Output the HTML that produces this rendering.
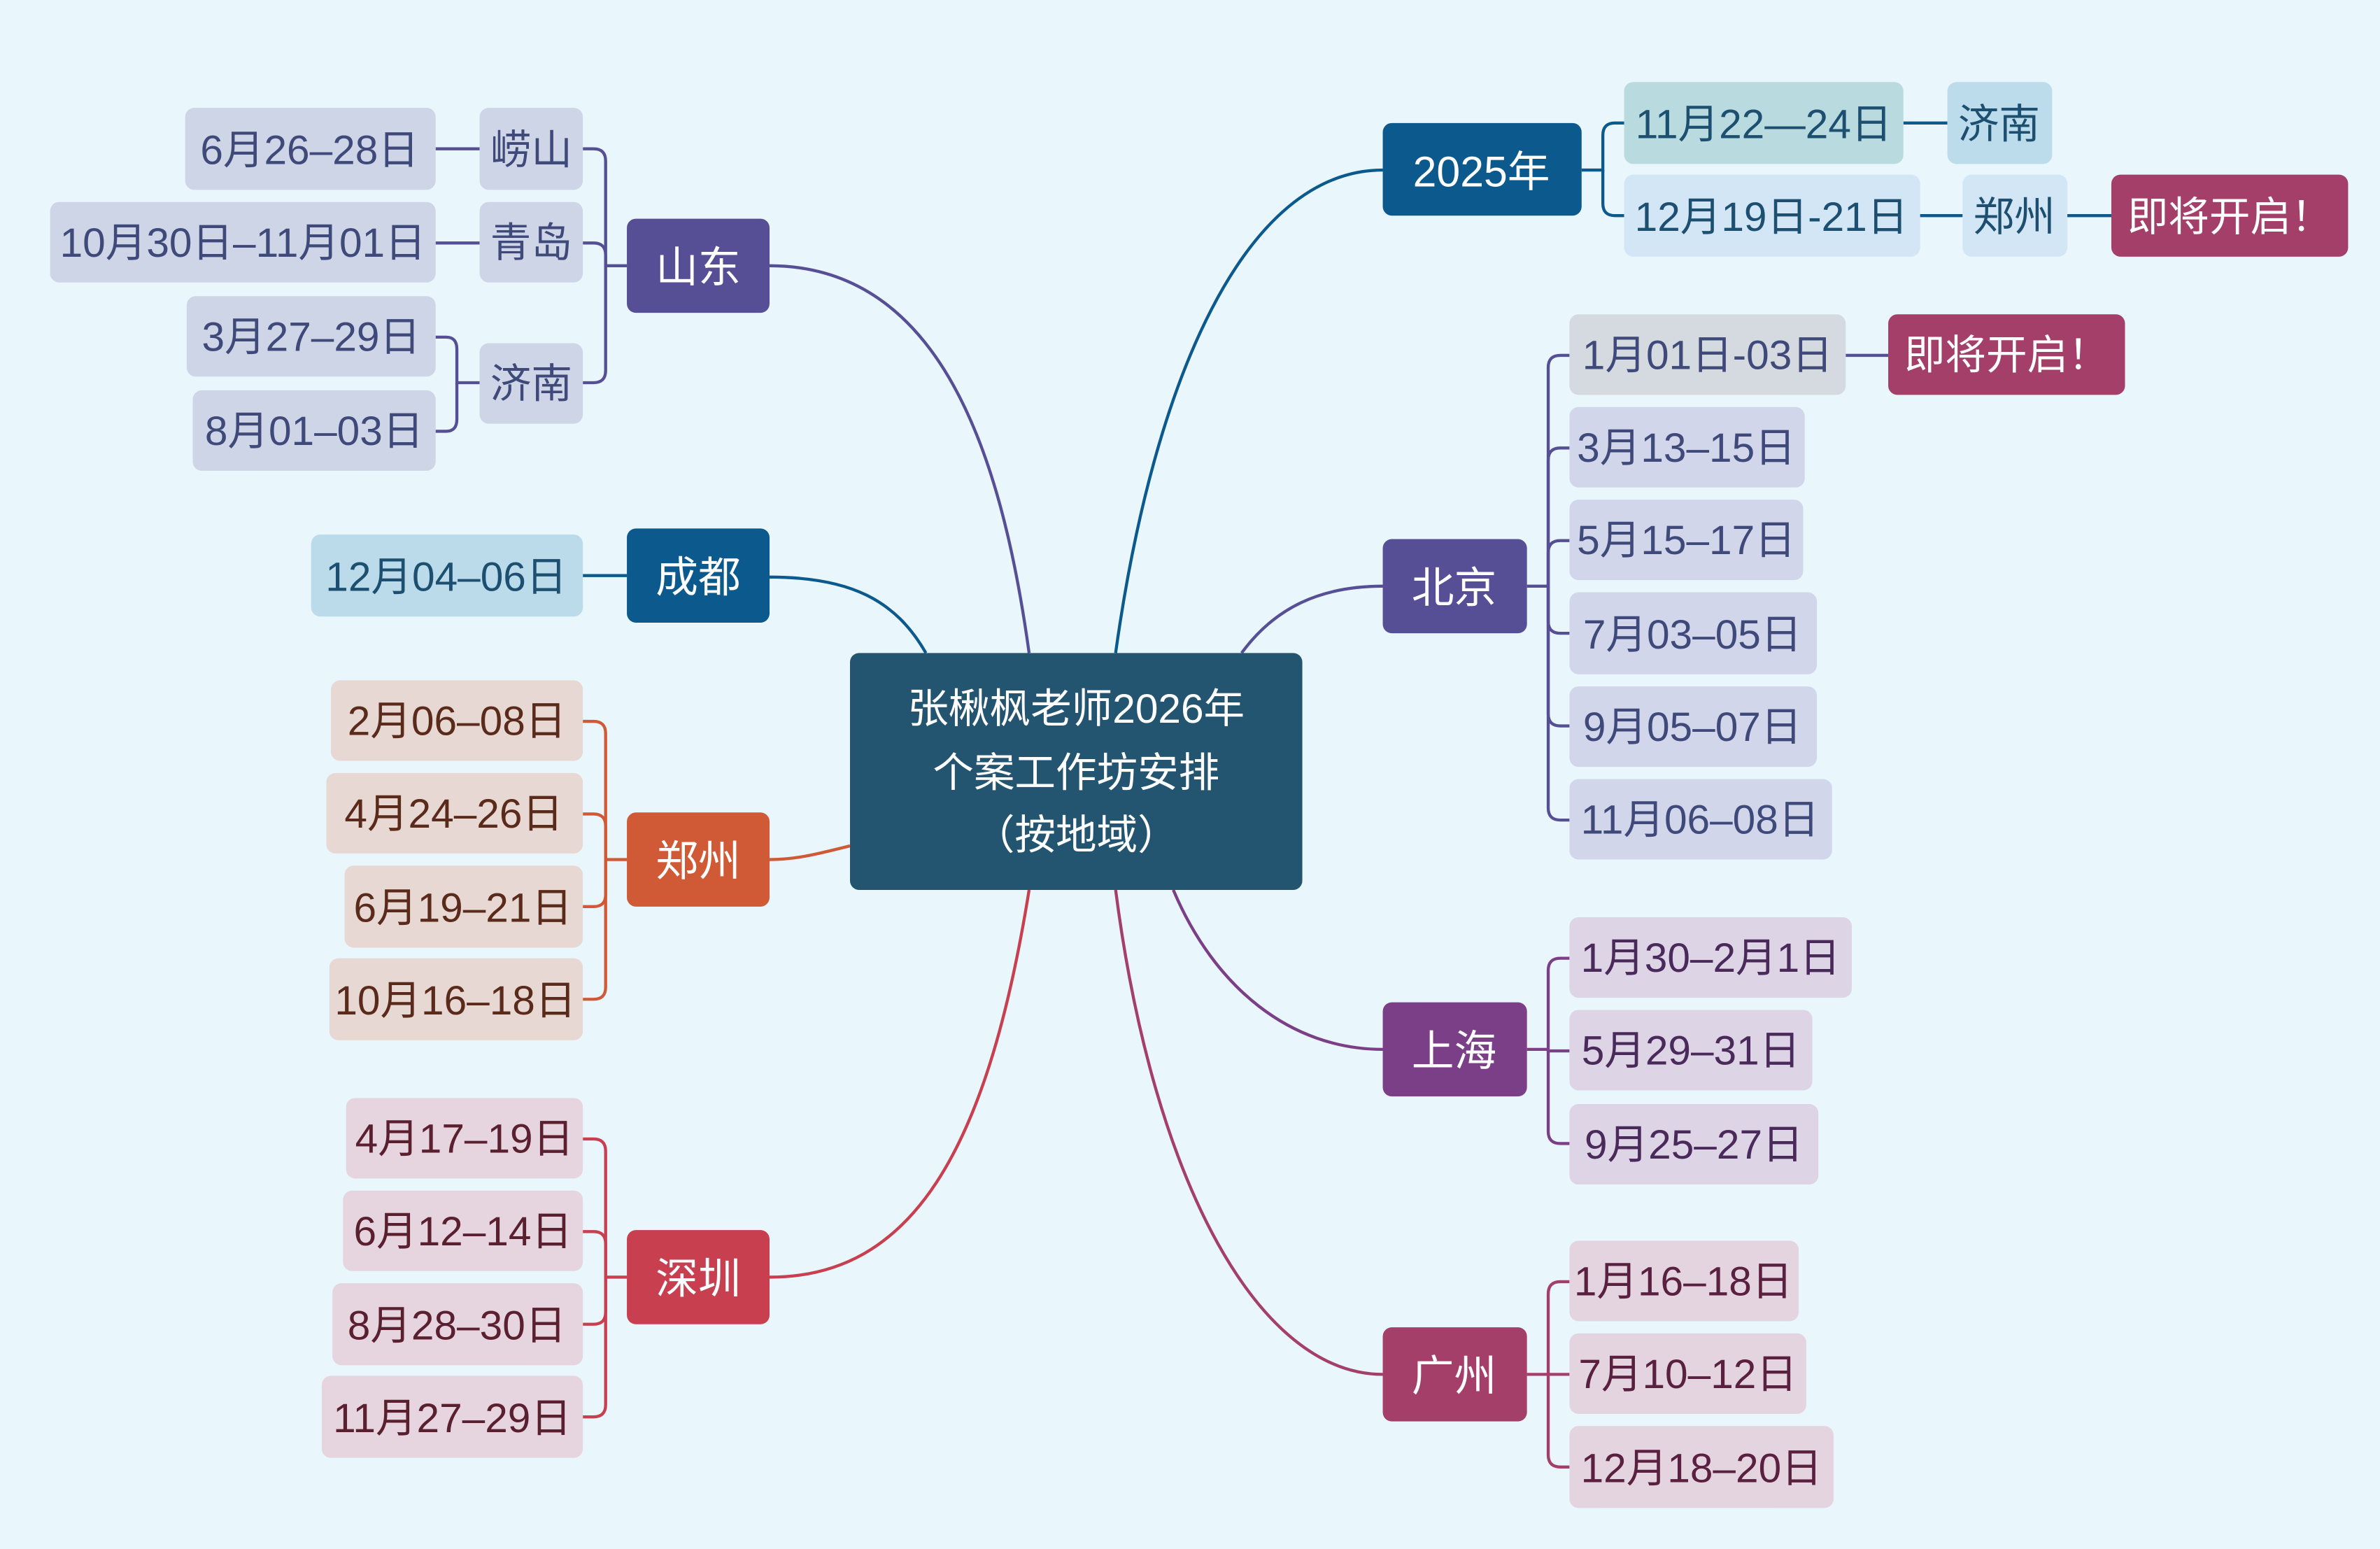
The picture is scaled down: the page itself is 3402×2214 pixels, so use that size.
<!DOCTYPE html>
<html><head><meta charset="utf-8"><style>
html,body{margin:0;padding:0;background:#e9f6fc;}
svg{display:block;}
text{font-family:"Liberation Sans","Noto Sans CJK SC",sans-serif;dominant-baseline:central;text-anchor:middle;}
</style></head><body>
<svg width="3402" height="2214" viewBox="0 0 1568 1020" preserveAspectRatio="none" xmlns="http://www.w3.org/2000/svg">
<rect width="1568" height="1020" fill="#e9f6fc"/>
<g fill="none" stroke-width="2">
<path d="M678,430 C660,300 620,175 507,175" stroke="#574f95"/>
<path d="M610,430 C590,395 560,380 507,380" stroke="#0c5a8d"/>
<path d="M560,557 C540,562 525,566 507,566" stroke="#d05a35"/>
<path d="M678,586 C650,760 600,841 507,841" stroke="#c83f50"/>
<path d="M735,430 C760,250 820,112 911,112" stroke="#0c5a8d"/>
<path d="M818,430 C840,400 870,386 911,386" stroke="#574f95"/>
<path d="M773,586 C800,650 850,691 911,691" stroke="#7a3f86"/>
<path d="M735,586 C760,780 830,905 911,905" stroke="#a43f6a"/>
<g stroke="#574f95">
<path d="M413,175 H399 V106 Q399,98 391,98 H384"/>
<path d="M399,175 V168 Q399,160 391,160 H384"/>
<path d="M399,175 V244 Q399,252 391,252 H384"/>
<path d="M316,252 H301 V230 Q301,222 294,222 H287"/>
<path d="M301,252 V276 Q301,284 294,284 H287"/>
<path d="M287,98 H316 M287,160 H316"/>
<path d="M1006,386 H1020 V242 Q1020,234 1028,234 H1034"/>
<path d="M1020,386 V303 Q1020,295 1028,295 H1034"/>
<path d="M1020,386 V364 Q1020,356 1028,356 H1034"/>
<path d="M1020,386 V409 Q1020,417 1028,417 H1034"/>
<path d="M1020,386 V470 Q1020,478 1028,478 H1034"/>
<path d="M1020,386 V532 Q1020,540 1028,540 H1034"/>
<path d="M1216,234 H1244"/>
</g>
<path d="M413,379 H384" stroke="#0c5a8d"/>
<g stroke="#d05a35">
<path d="M413,566 H399 V483 Q399,475 391,475 H384"/>
<path d="M399,566 V544 Q399,536 391,536 H384"/>
<path d="M399,566 V589 Q399,597 391,597 H384"/>
<path d="M399,566 V650 Q399,658 391,658 H384"/>
</g>
<g stroke="#c83f50">
<path d="M413,841 H399 V758 Q399,750 391,750 H384"/>
<path d="M399,841 V819 Q399,811 391,811 H384"/>
<path d="M399,841 V864 Q399,872 391,872 H384"/>
<path d="M399,841 V925 Q399,933 391,933 H384"/>
</g>
<g stroke="#0c5a8d">
<path d="M1042,112 H1056 V89 Q1056,81 1064,81 H1070"/>
<path d="M1056,112 V134 Q1056,142 1064,142 H1070"/>
<path d="M1254,81 H1283 M1265,142 H1293 M1362,142 H1391"/>
</g>
<g stroke="#7a3f86">
<path d="M1006,691 H1020 V639 Q1020,631 1028,631 H1034"/>
<path d="M1020,691 V692 H1034"/>
<path d="M1020,691 V745 Q1020,753 1028,753 H1034"/>
</g>
<g stroke="#a43f6a">
<path d="M1006,905 H1020 V852 Q1020,844 1028,844 H1034"/>
<path d="M1020,905 H1034"/>
<path d="M1020,905 V958 Q1020,966 1028,966 H1034"/>
</g>
</g>

<!-- center -->
<rect x="560" y="430" width="298" height="156" rx="6" fill="#235570"/>
<g fill="#fff" font-size="27">
<text x="709" y="467">张楸枫老师2026年</text>
<text x="709" y="509">个案工作坊安排</text>
<text x="709" y="550">（按地域）</text>
</g>

<!-- main nodes -->
<g font-size="28" fill="#fff">
<rect x="413" y="144" width="94" height="62" rx="6" fill="#574f95"/><text x="460" y="176" fill="#fff">山东</text>
<rect x="413" y="348" width="94" height="62" rx="6" fill="#0c5a8d"/><text x="460" y="380" fill="#fff">成都</text>
<rect x="413" y="535" width="94" height="62" rx="6" fill="#d05a35"/><text x="460" y="567" fill="#fff">郑州</text>
<rect x="413" y="810" width="94" height="62" rx="6" fill="#c83f50"/><text x="460" y="842" fill="#fff">深圳</text>
<rect x="911" y="81" width="131" height="61" rx="6" fill="#0c5a8d"/><text x="976" y="113" fill="#fff">2025年</text>
<rect x="911" y="355" width="95" height="62" rx="6" fill="#574f95"/><text x="958" y="387" fill="#fff">北京</text>
<rect x="911" y="660" width="95" height="62" rx="6" fill="#7a3f86"/><text x="958" y="692" fill="#fff">上海</text>
<rect x="911" y="874" width="95" height="62" rx="6" fill="#a43f6a"/><text x="958" y="906" fill="#fff">广州</text>
</g>

<g font-size="27">
<!-- 山东 -->
<g fill="#cdd5e6">
<rect x="316" y="71" width="68" height="54" rx="6"/><rect x="316" y="133" width="68" height="53" rx="6"/><rect x="316" y="226" width="68" height="53" rx="6"/>
<rect x="122" y="71" width="165" height="54" rx="6"/><rect x="33" y="133" width="254" height="53" rx="6"/>
<rect x="123" y="195" width="164" height="53" rx="6"/><rect x="127" y="257" width="160" height="53" rx="6"/>
</g>
<g fill="#3f4a7a">
<text x="350" y="99">崂山</text><text x="350" y="160">青岛</text><text x="350" y="253">济南</text>
<text x="204" y="99">6月26–28日</text><text x="160" y="160">10月30日–11月01日</text>
<text x="205" y="222">3月27–29日</text><text x="207" y="284">8月01–03日</text>
</g>
<!-- 成都 -->
<rect x="205" y="352" width="179" height="54" rx="6" fill="#bcdbea"/>
<text x="294" y="380" fill="#1d4f70">12月04–06日</text>
<!-- 郑州 -->
<g fill="#e8d8d3">
<rect x="218" y="448" width="166" height="53" rx="6"/><rect x="215" y="509" width="169" height="53" rx="6"/>
<rect x="227" y="570" width="157" height="54" rx="6"/><rect x="217" y="631" width="167" height="54" rx="6"/>
</g>
<g fill="#5a2a1a">
<text x="301" y="475">2月06–08日</text><text x="299" y="536">4月24–26日</text>
<text x="305" y="598">6月19–21日</text><text x="300" y="659">10月16–18日</text>
</g>
<!-- 深圳 -->
<g fill="#e6d5de">
<rect x="228" y="723" width="156" height="53" rx="6"/><rect x="226" y="784" width="158" height="53" rx="6"/>
<rect x="219" y="845" width="165" height="54" rx="6"/><rect x="212" y="906" width="172" height="54" rx="6"/>
</g>
<g fill="#5a2030">
<text x="306" y="750">4月17–19日</text><text x="305" y="811">6月12–14日</text>
<text x="301" y="873">8月28–30日</text><text x="298" y="934">11月27–29日</text>
</g>
<!-- 2025 -->
<rect x="1070" y="54" width="184" height="54" rx="6" fill="#b9dbe0"/>
<rect x="1283" y="54" width="69" height="54" rx="6" fill="#bcdcec"/>
<rect x="1070" y="115" width="195" height="54" rx="6" fill="#d2e6f6"/>
<rect x="1293" y="115" width="69" height="54" rx="6" fill="#d2e6f6"/>
<rect x="1391" y="115" width="156" height="54" rx="6" fill="#a43f6a"/>
<g fill="#1d4f70">
<text x="1162" y="82">11月22—24日</text><text x="1317" y="82">济南</text>
<text x="1167" y="143">12月19日-21日</text><text x="1327" y="143">郑州</text>
</g>
<text x="1469" y="143" fill="#fff">即将开启！</text>
<!-- 北京 -->
<rect x="1034" y="207" width="182" height="53" rx="6" fill="#d4dadf"/>
<rect x="1244" y="207" width="156" height="53" rx="6" fill="#a43f6a"/>
<g fill="#d2d6ea">
<rect x="1034" y="268" width="155" height="53" rx="6"/><rect x="1034" y="329" width="154" height="53" rx="6"/>
<rect x="1034" y="390" width="163" height="54" rx="6"/><rect x="1034" y="452" width="163" height="53" rx="6"/>
<rect x="1034" y="513" width="173" height="53" rx="6"/>
</g>
<g fill="#3f4a7a">
<text x="1125" y="234">1月01日-03日</text>
<text x="1111" y="295">3月13–15日</text><text x="1111" y="356">5月15–17日</text>
<text x="1115" y="418">7月03–05日</text><text x="1115" y="479">9月05–07日</text>
<text x="1120" y="540">11月06–08日</text>
</g>
<text x="1322" y="234" fill="#fff">即将开启！</text>
<!-- 上海 -->
<g fill="#ddd4e6">
<rect x="1034" y="604" width="186" height="53" rx="6"/><rect x="1034" y="665" width="160" height="53" rx="6"/>
<rect x="1034" y="727" width="164" height="53" rx="6"/>
</g>
<g fill="#4a2a5a">
<text x="1127" y="631">1月30–2月1日</text><text x="1114" y="692">5月29–31日</text><text x="1116" y="754">9月25–27日</text>
</g>
<!-- 广州 -->
<g fill="#e4d4e0">
<rect x="1034" y="817" width="151" height="53" rx="6"/><rect x="1034" y="878" width="156" height="53" rx="6"/>
<rect x="1034" y="939" width="174" height="54" rx="6"/>
</g>
<g fill="#5a2040">
<text x="1109" y="844">1月16–18日</text><text x="1112" y="905">7月10–12日</text><text x="1121" y="967">12月18–20日</text>
</g>
</g>
</svg>
</body></html>
